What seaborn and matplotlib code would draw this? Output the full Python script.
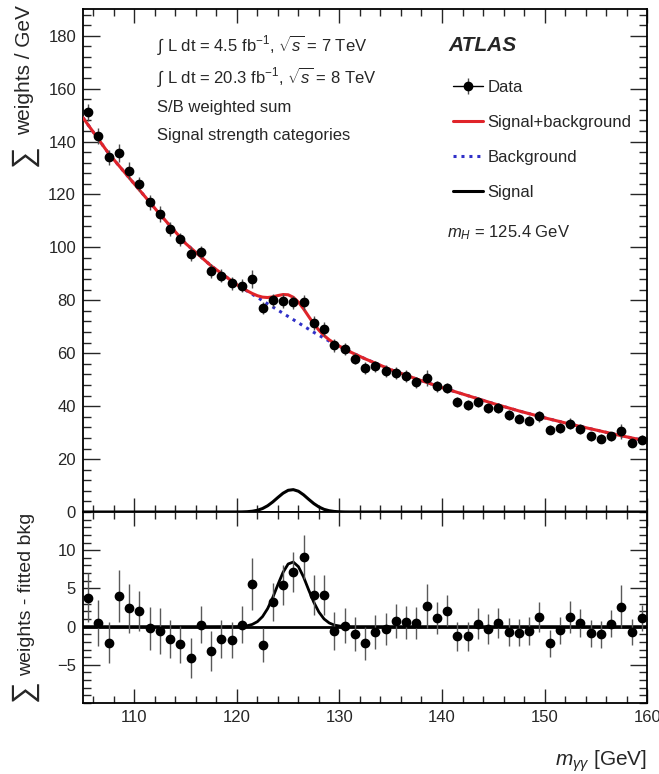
import numpy as np
import matplotlib
matplotlib.use("Agg")
import matplotlib.pyplot as plt
import seaborn as sns
from matplotlib.lines import Line2D
from matplotlib.ticker import MultipleLocator

# binning of the diphoton mass spectrum, 1 GeV bins from 105 to 160 GeV
bin_lo, bin_hi = 105, 160
mass = np.arange(bin_lo, bin_hi) + 0.5

# S/B weighted sum per GeV (top panel)
weighted = [151, 142, 134, 135.5, 129, 124, 117, 112.7, 107, 103,
            97.5, 98.3, 91.2, 89.3, 86.4, 85.5, 88, 77, 80, 79.8,
            79.2, 79.2, 71.3, 69.3, 63, 61.5, 58, 54.5, 55, 53.3,
            52.6, 51.4, 49, 50.7, 47.6, 46.9, 41.6, 40.3, 41.5, 39.3,
            39.3, 36.6, 35.3, 34.5, 36.2, 31.1, 31.8, 33.4, 31.4, 28.6,
            27.7, 28.6, 30.5, 26.1, 27.3]

# weights - fitted background (bottom panel)
residual = [3.8, 0.5, -2.1, 4.0, 2.4, 2.0, -0.2, -0.6, -1.6, -2.3,
            -4.1, 0.25, -3.2, -1.6, -1.75, 0.25, 5.6, -2.4, 3.25, 5.4,
            7.1, 9.1, 4.1, 4.1, -0.6, 0.1, -1.0, -2.2, -0.7, -0.3,
            0.7, 0.55, 0.5, 2.7, 1.1, 2.1, -1.25, -1.25, 0.4, -0.3,
            0.5, -0.7, -0.8, -0.6, 1.25, -2.2, -0.5, 1.25, 0.5, -0.9,
            -1.0, 0.4, 2.6, -0.7, 1.1]

# statistical error per bin
errors = [3.2, 3.0, 2.7, 3.4, 3.2, 2.6, 2.8, 3.0, 2.5, 2.4,
          2.6, 2.4, 2.6, 2.5, 2.4, 2.4, 3.4, 2.2, 2.5, 2.6,
          2.6, 2.9, 2.6, 2.6, 2.5, 2.3, 2.2, 2.2, 2.2, 2.1,
          2.2, 2.2, 2.1, 2.9, 2.1, 2.0, 1.9, 1.9, 2.0, 2.0,
          2.0, 1.8, 1.8, 1.8, 2.0, 1.8, 1.8, 2.1, 1.8, 1.8,
          1.8, 1.8, 2.8, 1.7, 1.7]

# fitted curves, sampled finer around the peak
curve_mass = [105, 107.5, 110, 112.5, 115, 117.5,
              120, 120.5, 121, 121.5, 122, 122.5, 123, 123.5, 124, 124.5,
              125, 125.5, 126, 126.5, 127, 127.5, 128, 128.5, 129, 129.5,
              130, 130.5, 131,
              132.5, 135, 137.5, 140, 142.5, 145, 147.5, 150, 152.5, 155,
              157.5, 160]
background = [149, 135.5, 124, 112.5, 101.5, 93,
              85.9, 84.7, 83.5, 82.3, 81.1, 79.9, 78.7, 77.5, 76.3, 75.1,
              73.9, 72.7, 71.5, 70.3, 69.1, 67.9, 66.8, 65.7, 64.6, 63.6,
              62.6, 61.6, 60.6,
              57.9, 53.8, 50.3, 47, 44, 41, 38.2, 35.6, 33.2, 31,
              28.8, 26.8]
signal = [0, 0, 0, 0, 0, 0,
          0.01, 0.04, 0.11, 0.29, 0.65, 1.31, 2.36, 3.81, 5.5, 7.1,
          8.2, 8.45, 7.85, 6.5, 4.8, 3.19, 1.9, 1.0, 0.48, 0.2,
          0.08, 0.02, 0,
          0, 0, 0, 0, 0, 0, 0, 0, 0, 0,
          0, 0]

sig_bkg = np.array(background) + np.array(signal)

sns.set_theme(style="ticks")
plt.rcParams["font.family"] = ["Liberation Sans", "DejaVu Sans"]
plt.rcParams["mathtext.fontset"] = "custom"
plt.rcParams["mathtext.rm"] = "Liberation Sans"
plt.rcParams["mathtext.it"] = "Liberation Sans:italic"
plt.rcParams["axes.linewidth"] = 1.3

red = "#e0242a"
blue = "#3030c8"

fig = plt.figure(figsize=(6.59, 7.74), dpi=100)
ax1 = fig.add_axes([0.126, 0.3385, 0.856, 0.6495])
ax2 = fig.add_axes([0.126, 0.0917, 0.856, 0.2468], sharex=ax1)

# ---------- top panel ----------
sns.lineplot(x=curve_mass, y=background, ax=ax1, color=blue, lw=2.2,
             linestyle=(0, (1, 1.6)), zorder=2)
sns.lineplot(x=curve_mass, y=sig_bkg, ax=ax1, color=red, lw=2.2, zorder=3)
sns.lineplot(x=curve_mass, y=signal, ax=ax1, color="black", lw=2.2, zorder=3)
data_err = ax1.errorbar(mass, weighted, yerr=errors, fmt="o", color="black",
                        ms=6, elinewidth=1.0, ecolor="0.3", capsize=0, zorder=4)

ax1.set_xlim(bin_lo, bin_hi)
ax1.set_ylim(0, 190)
ax1.yaxis.set_major_locator(MultipleLocator(20))
ax1.yaxis.set_minor_locator(MultipleLocator(4))
ax1.xaxis.set_major_locator(MultipleLocator(10))
ax1.xaxis.set_minor_locator(MultipleLocator(2))
ax1.tick_params(labelbottom=False)

# y title drawn as two pieces: a large sum sign below the words
ax1.text(-0.103, 1.008, "weights / GeV", transform=ax1.transAxes,
         rotation=90, fontsize=15, ha="center", va="top")
ax1.text(-0.101, 0.703, r"$\sum$", transform=ax1.transAxes,
         rotation=90, fontsize=22, ha="center", va="center")

ax1.text(0.131, 0.928, r"$\int$ L dt = 4.5 fb$^{-1}$, $\sqrt{s}$ = 7 TeV",
         transform=ax1.transAxes, fontsize=12, va="center")
ax1.text(0.131, 0.865, r"$\int$ L dt = 20.3 fb$^{-1}$, $\sqrt{s}$ = 8 TeV",
         transform=ax1.transAxes, fontsize=12, va="center")
ax1.text(0.131, 0.805, "S/B weighted sum",
         transform=ax1.transAxes, fontsize=12, va="center")
ax1.text(0.131, 0.748, "Signal strength categories",
         transform=ax1.transAxes, fontsize=12, va="center")
ax1.text(0.647, 0.928, "ATLAS", transform=ax1.transAxes, fontsize=15,
         fontweight="bold", fontstyle="italic", va="center")
ax1.text(0.645, 0.555, r"$m_H$ = 125.4 GeV", transform=ax1.transAxes,
         fontsize=12, va="center")

handles = [(Line2D([], [], color="black", lw=1.0), data_err),
           Line2D([], [], color=red, lw=2.2),
           Line2D([], [], color=blue, lw=2.2, linestyle=(0, (1, 1.6))),
           Line2D([], [], color="black", lw=2.2)]
labels = ["Data", "Signal+background", "Background", "Signal"]
ax1.legend(handles, labels, loc="upper left", bbox_to_anchor=(0.656, 0.86),
           frameon=False, fontsize=12, borderpad=0, handlelength=1.8,
           handletextpad=0.25, labelspacing=1.2, borderaxespad=0)

# ---------- bottom panel ----------
ax2.axhline(0, color="black", lw=2.0, zorder=2)
sns.lineplot(x=curve_mass, y=signal, ax=ax2, color="black", lw=2.0, zorder=3)
ax2.errorbar(mass, residual, yerr=errors, fmt="o", color="black", ms=6,
             elinewidth=1.0, ecolor="0.35", capsize=0, zorder=4)
ax2.set_ylim(-10, 15)
ax2.set_yticks([-5, 0, 5, 10])
ax2.yaxis.set_minor_locator(MultipleLocator(1))
ax2.text(-0.101, 0.995, "weights - fitted bkg", transform=ax2.transAxes,
         rotation=90, fontsize=14, ha="center", va="top")
ax2.text(-0.101, 0.052, r"$\sum$", transform=ax2.transAxes,
         rotation=90, fontsize=22, ha="center", va="center")
ax2.set_xlabel(r"$m_{\gamma\gamma}$ [GeV]", fontsize=15, loc="right",
               labelpad=17)

for ax in (ax1, ax2):
    ax.tick_params(which="both", direction="in", top=True, right=True,
                   labelsize=12, width=1.0, pad=5)
    ax.tick_params(axis="y", which="major", length=12)
    ax.tick_params(axis="y", which="minor", length=6)
    ax.tick_params(axis="x", which="major", length=10)
    ax.tick_params(axis="x", which="minor", length=5)
    for s in ax.spines.values():
        s.set_color("black")

fig.savefig("out.png", dpi=100)
